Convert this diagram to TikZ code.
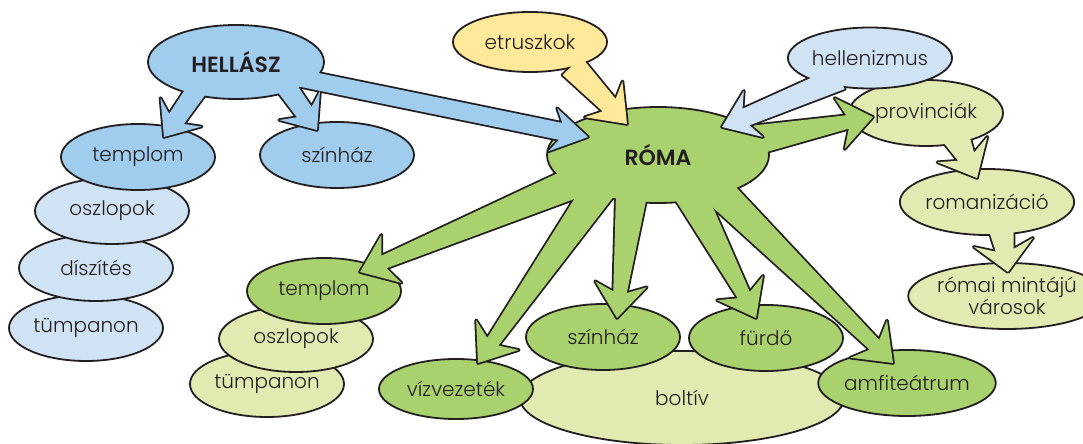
\documentclass[tikz,border=0pt]{standalone}
\usepackage{fontspec}
\setmainfont{Poppins Light}[BoldFont=Poppins SemiBold]
\usetikzlibrary{shapes.geometric,calc}

\definecolor{hblue}{HTML}{A0CCEE}
\definecolor{lblue}{HTML}{CFE3F5}
\definecolor{ryellow}{HTML}{FEE99A}
\definecolor{rgreen}{HTML}{A9D26F}
\definecolor{lgreen}{HTML}{E1EBB1}
\definecolor{ink}{HTML}{231F20}

% fat arrow from #1 to tip #2: half widths #3 (start), #4 (end), head #5, head length #6
\newcommand{\armpath}[6]{($(#1)!#3!90:(#2)$) -- ($(#2)!#6!(#1)!#4!-90:(#1)$)
  -- ($(#2)!#6+4pt!(#1)!#5!-90:(#1)$) -- (#2) -- ($(#2)!#6+4pt!(#1)!#5!90:(#1)$)
  -- ($(#2)!#6!(#1)!#4!90:(#1)$) -- ($(#1)!#3!-90:(#2)$) -- cycle}

\begin{document}
\begin{tikzpicture}[x=0.5pt,y=-0.5pt,
    every node/.style={font=\fontsize{10}{11}\selectfont, text=ink},
    bub/.style={ellipse, draw=ink, line width=0.9pt, inner sep=0pt, outer sep=0pt,
      minimum width=77pt, minimum height=33pt},
    outl/.style={draw=ink, line width=1.8pt, line join=round}]
    \useasboundingbox (0,0) rectangle (1083,444);

    % Hellász oldal
    \node[bub, fill=lblue] (gtimpanon) at (86,328) {tümpanon};
    \node[bub, fill=lblue] (gdiszites) at (96,268) {díszítés};
    \node[bub, fill=lblue] (goszlop) at (112,211) {oszlopok};
    \node[bub, fill=hblue] (gtemplom) at (138,157) {templom};
    \node[bub, fill=hblue] (gszinhaz) at (337,155) {színház};

    % Róma alatt
    \node[bub, fill=lgreen] (rtimpanon) at (267,384) {tümpanon};
    \node[bub, fill=lgreen] (roszlop) at (296,339) {oszlopok};
    \node[bub, fill=rgreen] (rtemplom) at (324,291) {templom};
    \node[bub, fill=lgreen, minimum width=162pt, minimum height=47pt] (boltiv) at (682,398) {boltív};
    \node[bub, fill=rgreen, minimum height=30pt] (vizvez) at (456,389) {vízvezeték};
    \node[bub, fill=rgreen] (rszinhaz) at (603,337) {színház};
    \node[bub, fill=rgreen] (furdo) at (766,338) {fürdő};
    \node[bub, fill=rgreen] (amfi) at (907,383) {amfiteátrum};
    \node[bub, fill=lgreen, align=center] (varosok) at (1007,296) {római mintájú\\városok};

    % romanizáció -> városok
    \coordinate (romaniz-o) at (1000,220);
    \coordinate (varosok-i) at ($(varosok)+(1,-24)$);
    \draw[outl] \armpath{romaniz-o}{varosok-i}{7pt}{4.5pt}{15pt}{11pt};
    \node[bub, fill=lgreen] (romaniz) at (987,202) {romanizáció};
    \fill[lgreen] \armpath{romaniz-o}{varosok-i}{7pt}{4.5pt}{15pt}{11pt};

    % provinciák -> romanizáció
    \coordinate (provincia-o) at (955,135);
    \coordinate (romaniz-i) at ($(romaniz)+(-10,-24)$);
    \draw[outl] \armpath{provincia-o}{romaniz-i}{7pt}{4.5pt}{14pt}{12pt};
    \node[bub, fill=lgreen] (provincia) at (926,113) {provinciák};
    \fill[lgreen] \armpath{provincia-o}{romaniz-i}{7pt}{4.5pt}{14pt}{12pt};

    % Róma karjai
    \coordinate (roma-o1) at (585,178);
    \coordinate (roma-o2) at (600,188);
    \coordinate (roma-o3) at (632,190);
    \coordinate (roma-o4) at (688,190);
    \coordinate (roma-o5) at (712,185);
    \coordinate (roma-o6) at (740,143);
    \coordinate (rtemplom-i) at ($(rtemplom)+(36,-19)$);
    \coordinate (vizvez-i) at ($(vizvez)+(22,-26)$);
    \coordinate (rszinhaz-i) at ($(rszinhaz)+(14,-19)$);
    \coordinate (furdo-i) at ($(furdo)+(-10,-20)$);
    \coordinate (amfi-i) at ($(amfi)+(-14,-20)$);
    \coordinate (provincia-i) at ($(provincia)+(-53,4)$);
    \foreach \o/\i in {roma-o1/rtemplom-i, roma-o2/vizvez-i, roma-o3/rszinhaz-i,
        roma-o4/furdo-i, roma-o5/amfi-i, roma-o6/provincia-i}
      \draw[outl] \armpath{\o}{\i}{8pt}{3.4pt}{13pt}{13pt};
    \node[bub, fill=rgreen, minimum width=111pt, minimum height=48pt,
      font=\fontsize{11}{12}\selectfont\bfseries] (roma) at (658,155) {RÓMA};
    \foreach \o/\i in {roma-o1/rtemplom-i, roma-o2/vizvez-i, roma-o3/rszinhaz-i,
        roma-o4/furdo-i, roma-o5/amfi-i, roma-o6/provincia-i}
      \fill[rgreen] \armpath{\o}{\i}{8pt}{3.4pt}{13pt}{13pt};

    % Hellász, etruszkok, hellenizmus
    \coordinate (hellasz-o1) at (300,78);
    \coordinate (hellasz-o2) at (200,85);
    \coordinate (hellasz-o3) at (285,85);
    \coordinate (etrusk-o) at (572,66);
    \coordinate (hellen-o) at (840,78);
    \coordinate (roma-i1) at ($(roma)+(-70,-18)$);
    \coordinate (roma-i2) at ($(roma)+(-31,-31)$);
    \coordinate (roma-i3) at ($(roma)+(64,-28)$);
    \coordinate (gtemplom-i) at ($(gtemplom)+(26,-20)$);
    \coordinate (gszinhaz-i) at ($(gszinhaz)+(-20,-25)$);
    \draw[outl] \armpath{hellasz-o1}{roma-i1}{4.3pt}{4.3pt}{11pt}{14pt};
    \draw[outl] \armpath{hellasz-o2}{gtemplom-i}{5pt}{4.5pt}{12.5pt}{11pt};
    \draw[outl] \armpath{hellasz-o3}{gszinhaz-i}{5pt}{4.5pt}{12.5pt}{11pt};
    \draw[outl] \armpath{etrusk-o}{roma-i2}{6.5pt}{4.5pt}{13pt}{13pt};
    \draw[outl] \armpath{hellen-o}{roma-i3}{6pt}{4.5pt}{12.5pt}{13pt};
    \node[bub, fill=hblue, minimum width=88pt, minimum height=37pt,
      font=\fontsize{11}{12}\selectfont\bfseries] (hellasz) at (236,62) {HELLÁSZ};
    \node[bub, fill=ryellow, minimum height=30pt] (etrusk) at (530,42) {etruszkok};
    \node[bub, fill=lblue, minimum height=30.5pt] (hellen) at (870,58) {hellenizmus};
    \fill[hblue] \armpath{hellasz-o1}{roma-i1}{4.3pt}{4.3pt}{11pt}{14pt};
    \fill[hblue] \armpath{hellasz-o2}{gtemplom-i}{5pt}{4.5pt}{12.5pt}{11pt};
    \fill[hblue] \armpath{hellasz-o3}{gszinhaz-i}{5pt}{4.5pt}{12.5pt}{11pt};
    \fill[ryellow] \armpath{etrusk-o}{roma-i2}{6.5pt}{4.5pt}{13pt}{13pt};
    \fill[lblue] \armpath{hellen-o}{roma-i3}{6pt}{4.5pt}{12.5pt}{13pt};
\end{tikzpicture}
\end{document}
